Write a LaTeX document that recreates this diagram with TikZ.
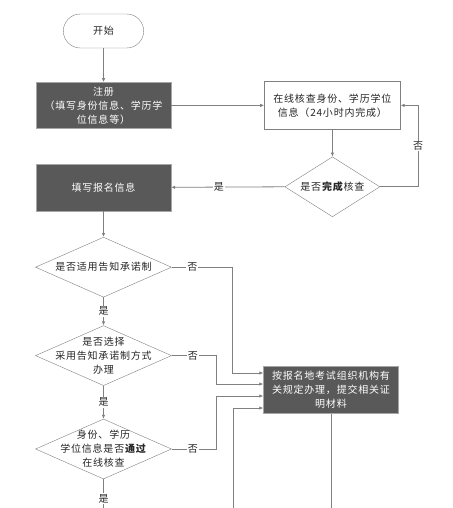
\documentclass[tikz,border=0pt]{standalone}
\usepackage{fontspec}
\setmainfont{Noto Sans CJK SC}[LetterSpace=8]
\usetikzlibrary{arrows.meta,positioning,shapes.geometric,shapes.misc}
\definecolor{boxgray}{HTML}{595959}
\definecolor{edgegray}{HTML}{A6A6A6}
\definecolor{linegray}{HTML}{808080}

\begin{document}
\begin{tikzpicture}[x=1pt, y=-1pt, every node/.style={font=\fontsize{10}{14}\selectfont, text=black!85}, termstep/.style={draw=linegray, rounded rectangle, fill=white, minimum width=87pt, minimum height=34pt}, darkstep/.style={draw=edgegray, fill=boxgray, text=white, align=center, minimum width=135pt, minimum height=47pt, inner sep=2pt}, whitestep/.style={draw=linegray, fill=white, align=center, minimum width=136pt, minimum height=48pt}, decision/.style={draw=linegray, diamond, fill=white, minimum width=136pt, minimum height=60pt, inner sep=0pt}, qtext/.style={align=center}, arr/.style={-{Latex[length=4pt,width=3.5pt]}, draw=linegray, line width=0.8pt}, plain/.style={draw=linegray, line width=0.8pt}, yn/.style={fill=white, inner sep=1pt}]
\useasboundingbox (0,0) rectangle (452,508);
\node[termstep] (start) at (103.5,31) {开始};
\node[darkstep, below=34pt of start, minimum height=46pt] (reg) {注册\\（填写身份信息、学历学\\位信息等）};
\node[whitestep, right=93pt of reg] (check) {在线核查身份、学历学位\\信息（24小时内完成）};
\node[decision, below=27pt of check, minimum width=95pt, label={[qtext]center:是否\textbf{完成}核查}] (done) {};
\node[darkstep, below=35pt of reg] (fill) {填写报名信息};
\node[decision, below=26pt of fill, label={[qtext]center:是否适用告知承诺制}] (q1) {};
\node[decision, below=28pt of q1, label={[qtext]center:是否选择\\采用告知承诺制方式\\办理}] (q2) {};
\node[decision, below=33pt of q2, label={[qtext]center:身份、学历\\学位信息是否\textbf{通过}\\在线核查}] (q3) {};
\node[darkstep] (apply) at (331,390) {按报名地考试组织机构有\\关规定办理，提交相关证\\明材料};
\coordinate (low1) at (233,512);
\coordinate (low2) at (103.5,512);
\coordinate (low3) at (331,512);
\draw[arr] (start) -- (reg); \draw[arr] (reg) -- (check); \draw[arr] (check) -- (done); \draw[arr] (done.east) -- ++(38,0) |- node[yn, pos=0.25]{否} (check.east); \draw[arr] (done.west) -- node[yn, pos=0.58]{是} (fill.east); \draw[arr] (fill) -- (q1); \draw[arr] (q1) -- node[yn]{是} (q2); \draw[arr] (q2) -- node[yn]{是} (q3); \draw[plain] (q3.south) -- node[yn, pos=0.6]{是} (low2);
\draw[arr] (q1.east) -- node[yn, pos=0.34]{否} ++(61,0) |- ([yshift=17pt]apply.west); \draw[arr] (q2.east) -- node[yn, pos=0.47]{否} ++(45,0) |- ([yshift=6pt]apply.west); \draw[arr] (q3.east) -- node[yn, pos=0.47]{否} ++(45,0) |- ([yshift=-6pt]apply.west); \draw[arr] (low1) |- ([yshift=-18pt]apply.west); \draw[plain] (apply.south) -- (low3);
\end{tikzpicture}
\end{document}
